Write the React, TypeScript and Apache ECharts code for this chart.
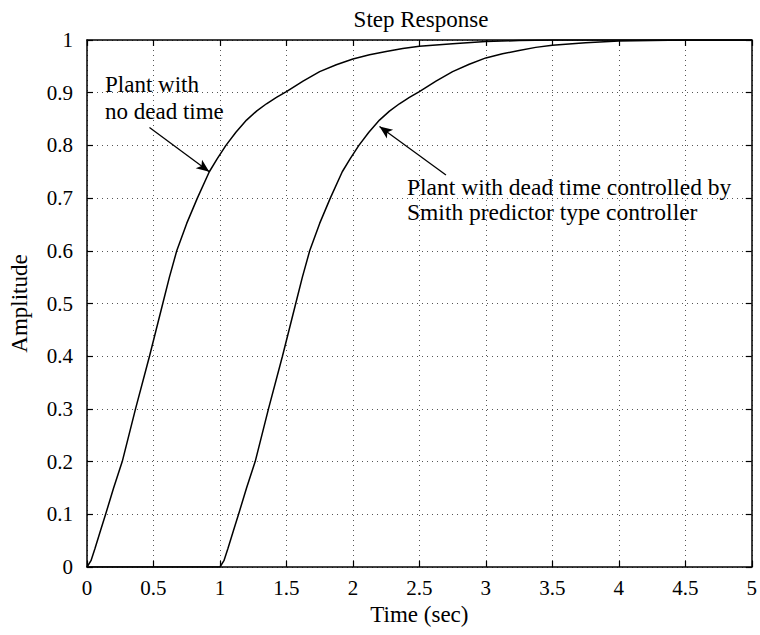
import React, { useEffect, useRef } from "react";
import * as echarts from "echarts";

const xTicks = [0, 0.5, 1, 1.5, 2, 2.5, 3, 3.5, 4, 4.5, 5];
const yTicks = [0, 0.1, 0.2, 0.3, 0.4, 0.5, 0.6, 0.7, 0.8, 0.9, 1];

const noDeadTime: [number, number][] = [
  [0, 0], [0.03, 0.012], [0.06, 0.035], [0.1, 0.068], [0.14, 0.1], [0.2, 0.15],
  [0.265, 0.2], [0.365, 0.3], [0.47, 0.4], [0.57, 0.5], [0.62, 0.55], [0.675, 0.6],
  [0.75, 0.652], [0.83, 0.7], [0.92, 0.75], [0.98, 0.775], [1.045, 0.8], [1.12, 0.825],
  [1.2, 0.848], [1.275, 0.865], [1.35, 0.879], [1.425, 0.891], [1.5, 0.902],
  [1.625, 0.922], [1.75, 0.94], [1.875, 0.953], [2.0, 0.964], [2.125, 0.972], [2.25, 0.978],
  [2.375, 0.984], [2.5, 0.988], [2.75, 0.993], [3.0, 0.997], [3.25, 0.999], [3.5, 1.0], [5, 1.0],
];

const smithPredictor: [number, number][] = [
  [0, 0], [1.0, 0], [1.03, 0.012], [1.06, 0.035], [1.1, 0.068], [1.14, 0.1], [1.2, 0.15],
  [1.265, 0.2], [1.365, 0.3], [1.47, 0.4], [1.57, 0.5], [1.62, 0.55], [1.675, 0.6],
  [1.75, 0.652], [1.83, 0.7], [1.92, 0.75], [1.98, 0.775], [2.045, 0.8], [2.12, 0.825],
  [2.2, 0.848], [2.275, 0.865], [2.35, 0.879], [2.425, 0.891], [2.5, 0.902],
  [2.625, 0.922], [2.75, 0.94], [2.875, 0.954], [3.0, 0.966], [3.125, 0.974], [3.25, 0.98],
  [3.375, 0.986], [3.5, 0.99], [3.75, 0.995], [4.0, 0.998], [4.25, 0.999], [4.5, 1.0], [5, 1.0],
];

const arrow1: [number, number][] = [[0.47, 0.834], [0.92, 0.75]];
const arrow2: [number, number][] = [[2.7, 0.744], [2.2, 0.836]];

const FONT = "Liberation Serif";

export default function App() {
  const ref = useRef<HTMLDivElement>(null);
  useEffect(() => {
    if (!ref.current) return;
    const chart = echarts.init(ref.current, undefined, { renderer: "svg" });
    const axisCommon = {
      type: "value" as const,
      axisLine: { show: true, onZero: false, lineStyle: { color: "#000", width: 1.5 } },
      axisTick: { show: true, inside: true, length: 6, lineStyle: { color: "#000", width: 1.2 } },
    };
    const gridLine = { show: true, lineStyle: { color: "#555", width: 1, type: [1, 4] as any } };
    const curveStyle = {
      type: "line" as const, showSymbol: false, symbol: "none", silent: true,
      smooth: false,
      lineStyle: { color: "#000", width: 1.5 },
    };
    const arrowStyle = {
      silent: true, symbol: ["none", "arrow"], symbolSize: [8, 13],
      label: { show: false },
      lineStyle: { color: "#000", width: 1.3, type: "solid" as const },
    };
    chart.setOption({
      animation: false,
      backgroundColor: "#fff",
      textStyle: { fontFamily: FONT },
      grid: { left: 87, right: 6, top: 40, bottom: 68, containLabel: false },
      xAxis: [
        {
          ...axisCommon,
          min: xTicks[0], max: xTicks[xTicks.length - 1], interval: 0.5,
          position: "bottom",
          splitLine: gridLine,
          axisLabel: { color: "#000", fontFamily: FONT, fontSize: 21, margin: 10 },
          name: "Time (sec)",
          nameLocation: "middle",
          nameGap: 30,
          nameTextStyle: { color: "#000", fontFamily: FONT, fontSize: 23 },
        },
        {
          ...axisCommon,
          min: xTicks[0], max: xTicks[xTicks.length - 1], interval: 0.5,
          position: "top",
          splitLine: { show: false },
          axisLabel: { show: false },
        },
      ],
      yAxis: [
        {
          ...axisCommon,
          min: yTicks[0], max: yTicks[yTicks.length - 1], interval: 0.1,
          position: "left",
          splitLine: gridLine,
          axisLabel: { color: "#000", fontFamily: FONT, fontSize: 21, margin: 14 },
          name: "Amplitude",
          nameLocation: "middle",
          nameGap: 56,
          nameTextStyle: { color: "#000", fontFamily: FONT, fontSize: 23 },
        },
        {
          ...axisCommon,
          min: yTicks[0], max: yTicks[yTicks.length - 1], interval: 0.1,
          position: "right",
          splitLine: { show: false },
          axisLabel: { show: false },
        },
      ],
      graphic: [
        {
          type: "text", x: 421, y: 19,
          style: { text: "Step Response", align: "center", verticalAlign: "middle", fontFamily: FONT, fontSize: 23, fill: "#000" },
        },
        {
          type: "text", x: 105, y: 71,
          style: { text: "Plant with\nno dead time", align: "left", verticalAlign: "top", fontFamily: FONT, fontSize: 23, lineHeight: 27, fill: "#000" },
        },
        {
          type: "text", x: 407, y: 174,
          style: { text: "Plant with dead time controlled by\nSmith predictor type controller", align: "left", verticalAlign: "top", fontFamily: FONT, fontSize: 23.5, lineHeight: 25, fill: "#000" },
        },
      ],
      series: [
        {
          ...curveStyle,
          data: noDeadTime,
          markLine: { ...arrowStyle, data: [[{ coord: arrow1[0] }, { coord: arrow1[1] }]] },
        },
        {
          ...curveStyle,
          data: smithPredictor,
          markLine: { ...arrowStyle, data: [[{ coord: arrow2[0] }, { coord: arrow2[1] }]] },
        },
      ],
    });
    return () => chart.dispose();
  }, []);
  return (
    <div
      ref={ref}
      style={{ position: "fixed", left: 0, top: 0, width: 760, height: 635, background: "#fff" }}
    />
  );
}
